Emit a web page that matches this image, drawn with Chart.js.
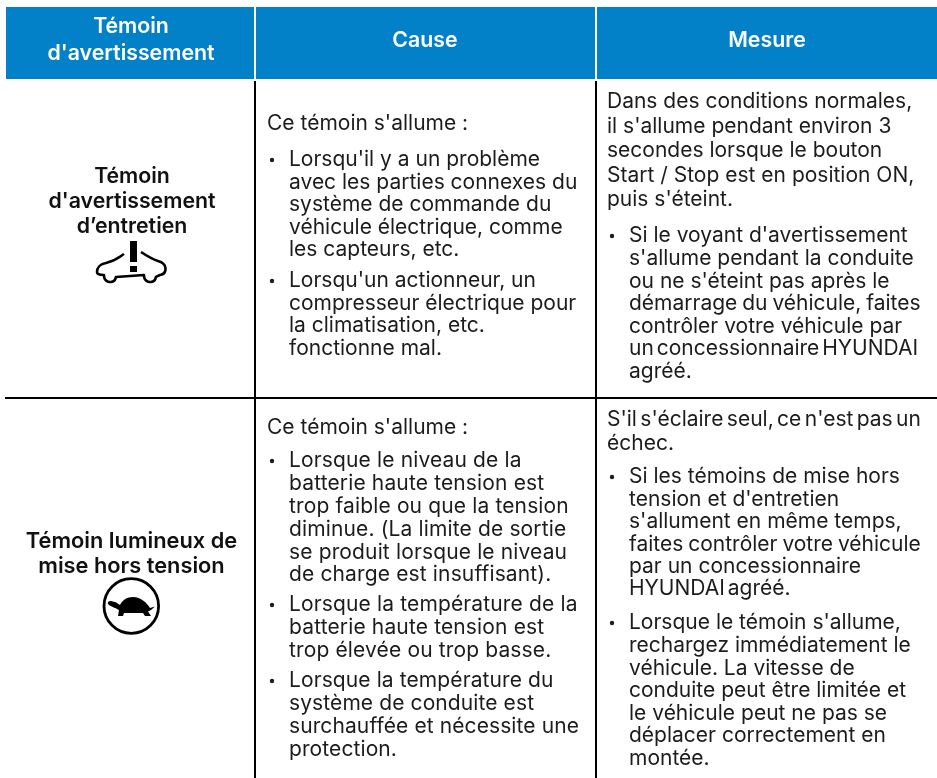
<!DOCTYPE html>
<html lang="fr"><head><meta charset="utf-8"><title>Témoins</title>
<style>html,body{margin:0;padding:0;background:#fff}canvas{display:block}</style>
<script src="https://cdn.jsdelivr.net/npm/chart.js@4"></script></head>
<body><canvas id="c" width="937" height="778"></canvas>
<script>
const columnHeaders = [["Témoin","d'avertissement"],["Cause"],["Mesure"]];
const rowTitles = [["Témoin","d'avertissement","d’entretien"],["Témoin lumineux de","mise hors tension"]];
const cause1Intro = ["Ce témoin s'allume :"];
const cause1A = ["Lorsqu'il y a un problème","avec les parties connexes du","système de commande du","véhicule électrique, comme","les capteurs, etc."];
const cause1B = ["Lorsqu'un actionneur, un","compresseur électrique pour","la climatisation, etc.","fonctionne mal."];
const measure1Intro = ["Dans des conditions normales,","il s'allume pendant environ 3","secondes lorsque le bouton","Start / Stop est en position ON,","puis s'éteint."];
const measure1A = ["Si le voyant d'avertissement","s'allume pendant la conduite","ou ne s'éteint pas après le","démarrage du véhicule, faites","contrôler votre véhicule par","un concessionnaire HYUNDAI","agréé."];
const cause2Intro = ["Ce témoin s'allume :"];
const cause2A = ["Lorsque le niveau de la","batterie haute tension est","trop faible ou que la tension","diminue. (La limite de sortie","se produit lorsque le niveau","de charge est insuffisant)."];
const cause2B = ["Lorsque la température de la","batterie haute tension est","trop élevée ou trop basse."];
const cause2C = ["Lorsque la température du","système de conduite est","surchauffée et nécessite une","protection."];
const measure2Intro = ["S'il s'éclaire seul, ce n'est pas un","échec."];
const measure2A = ["Si les témoins de mise hors","tension et d'entretien","s'allument en même temps,","faites contrôler votre véhicule","par un concessionnaire","HYUNDAI agréé."];
const measure2B = ["Lorsque le témoin s'allume,","rechargez immédiatement le","véhicule. La vitesse de","conduite peut être limitée et","le véhicule peut ne pas se","déplacer correctement en","montée."];

const columnEdges = [[6,254],[256,595],[597,937]];
const headerBand = [7,79];
const BLUE="#0280c8", INK="#1c1c1c", BODY="Inter, 'Open Sans', sans-serif";
const tightWords = new Map([[measure2Intro[0],-2.5],[measure2A[3],-1],[measure2A[5],-3],[measure1A[3],-1],[measure1A[5],-3]]);

const blocks=[
 {l:cause1Intro,x:267,y:124,h:22.5},
 {l:cause1A,x:289,y:160,h:22.4,b:1},
 {l:cause1B,x:289,y:281,h:22.4,b:1},
 {l:measure1Intro,x:607,y:102,h:24.5},
 {l:measure1A,x:629,y:236,h:22.6,b:1},
 {l:cause2Intro,x:267,y:428,h:22.5},
 {l:cause2A,x:289,y:461,h:22.8,b:1,ls:0.14},
 {l:cause2B,x:289,y:605,h:23,b:1,ls:0.14},
 {l:cause2C,x:289,y:681,h:23,b:1,ls:0.1},
 {l:measure2Intro,x:607,y:420,h:24},
 {l:measure2A,x:629,y:477,h:22.4,b:1},
 {l:measure2B,x:629,y:623,h:22.6,b:1}
];
const tablePlugin={id:'table',afterDatasetsDraw(chart){
 const c=chart.ctx,X=v=>chart.scales.x.getPixelForValue(v),Y=v=>chart.scales.y.getPixelForValue(v);
 c.save();c.textBaseline='middle';
 c.fillStyle='#fff';c.textAlign='center';c.font="600 21.3px "+BODY;
 [[131,[27,54]],[425,[41]],[767,[41]]].forEach((p,i)=>columnHeaders[i].forEach((s,j)=>c.fillText(s,X(p[0]),Y(p[1][j]))));
 c.fillStyle='#111';c.font="600 21.3px "+BODY;
 rowTitles[0].forEach((s,j)=>c.fillText(s,X(132),Y(177+j*25)));
 c.font="600 21.8px "+BODY;
 rowTitles[1].forEach((s,j)=>c.fillText(s,X(131.5),Y(541+j*25)));
 c.textAlign='left';c.fillStyle=INK;c.font="400 21px "+BODY;
 blocks.forEach(b=>{c.letterSpacing=(b.ls||0)+'px';
  b.l.forEach((s,j)=>{c.wordSpacing=(tightWords.get(s)||0)+'px';c.fillText(s,X(b.x),Y(b.y+j*b.h));});
  if(b.b){c.beginPath();c.arc(X(b.x-17),Y(b.y),2.2,0,7);c.fill();}});
 c.letterSpacing='0px';c.wordSpacing='0px';
 c.strokeStyle='#000';c.lineWidth=2.6;c.lineJoin='round';c.lineCap='butt';
 c.beginPath();c.moveTo(X(124),Y(254));c.bezierCurveTo(X(118),Y(258),X(115),Y(261),X(106),Y(263));
 c.bezierCurveTo(X(100),Y(264),X(97),Y(268),X(97),Y(272));c.quadraticCurveTo(X(97),Y(275),X(104),Y(275));
 c.arc(X(110),Y(276),6,Math.PI*0.95,Math.PI*0.05,true);c.lineTo(X(144),Y(275));
 c.arc(X(150),Y(276),6,Math.PI*0.95,Math.PI*0.05,true);c.lineTo(X(160),Y(275));
 c.quadraticCurveTo(X(166),Y(274),X(165.5),Y(268));c.quadraticCurveTo(X(165),Y(263),X(158),Y(261));
 c.bezierCurveTo(X(152),Y(259),X(147),Y(256),X(141),Y(252));c.stroke();
 c.fillStyle='#000';c.fillRect(X(130),Y(241),7,21);c.fillRect(X(130),Y(266),7,6);
 c.lineWidth=2.8;c.beginPath();c.arc(X(131.3),Y(606),27.3,0,7);c.stroke();
 c.beginPath();c.moveTo(X(118),Y(611));c.bezierCurveTo(X(120),Y(601),X(126),Y(597),X(133),Y(597));
 c.bezierCurveTo(X(141),Y(597),X(147),Y(603),X(150),Y(608));c.lineTo(X(155),Y(606.5));c.lineTo(X(151),Y(610));
 c.lineTo(X(148),Y(611.5));c.lineTo(X(151),Y(616));c.lineTo(X(145),Y(616));c.lineTo(X(143),Y(613));
 c.lineTo(X(124),Y(613));c.lineTo(X(123),Y(616));c.lineTo(X(118),Y(616));c.lineTo(X(119),Y(610));
 c.bezierCurveTo(X(115),Y(607.5),X(110),Y(606.5),X(108),Y(604));c.quadraticCurveTo(X(107),Y(601),X(111),Y(601));
 c.quadraticCurveTo(X(116),Y(601.5),X(120),Y(605));c.closePath();c.fill();
 c.restore();
}};
const bands=columnEdges.map(e=>({type:'line',data:[{x:e[0],y:headerBand[0]},{x:e[1],y:headerBand[0]}],
 borderWidth:0,pointRadius:0,backgroundColor:BLUE,fill:{value:headerBand[1]}}));
const rules=[[[255,81],[255,778]],[[596,81],[596,778]],[[5,398],[937,398]]].map(d=>({type:'line',
 data:d.map(p=>({x:p[0],y:p[1]})),borderColor:'#000',borderWidth:2,pointRadius:0,fill:false}));
new Chart(document.getElementById('c'),{type:'scatter',data:{datasets:[...bands,...rules]},plugins:[tablePlugin],
 options:{responsive:false,animation:false,layout:{padding:0},plugins:{legend:{display:false},tooltip:{enabled:false}},
 scales:{x:{type:'linear',display:false,min:0,max:937},y:{type:'linear',display:false,min:0,max:778,reverse:true}}}});
</script></body></html>
